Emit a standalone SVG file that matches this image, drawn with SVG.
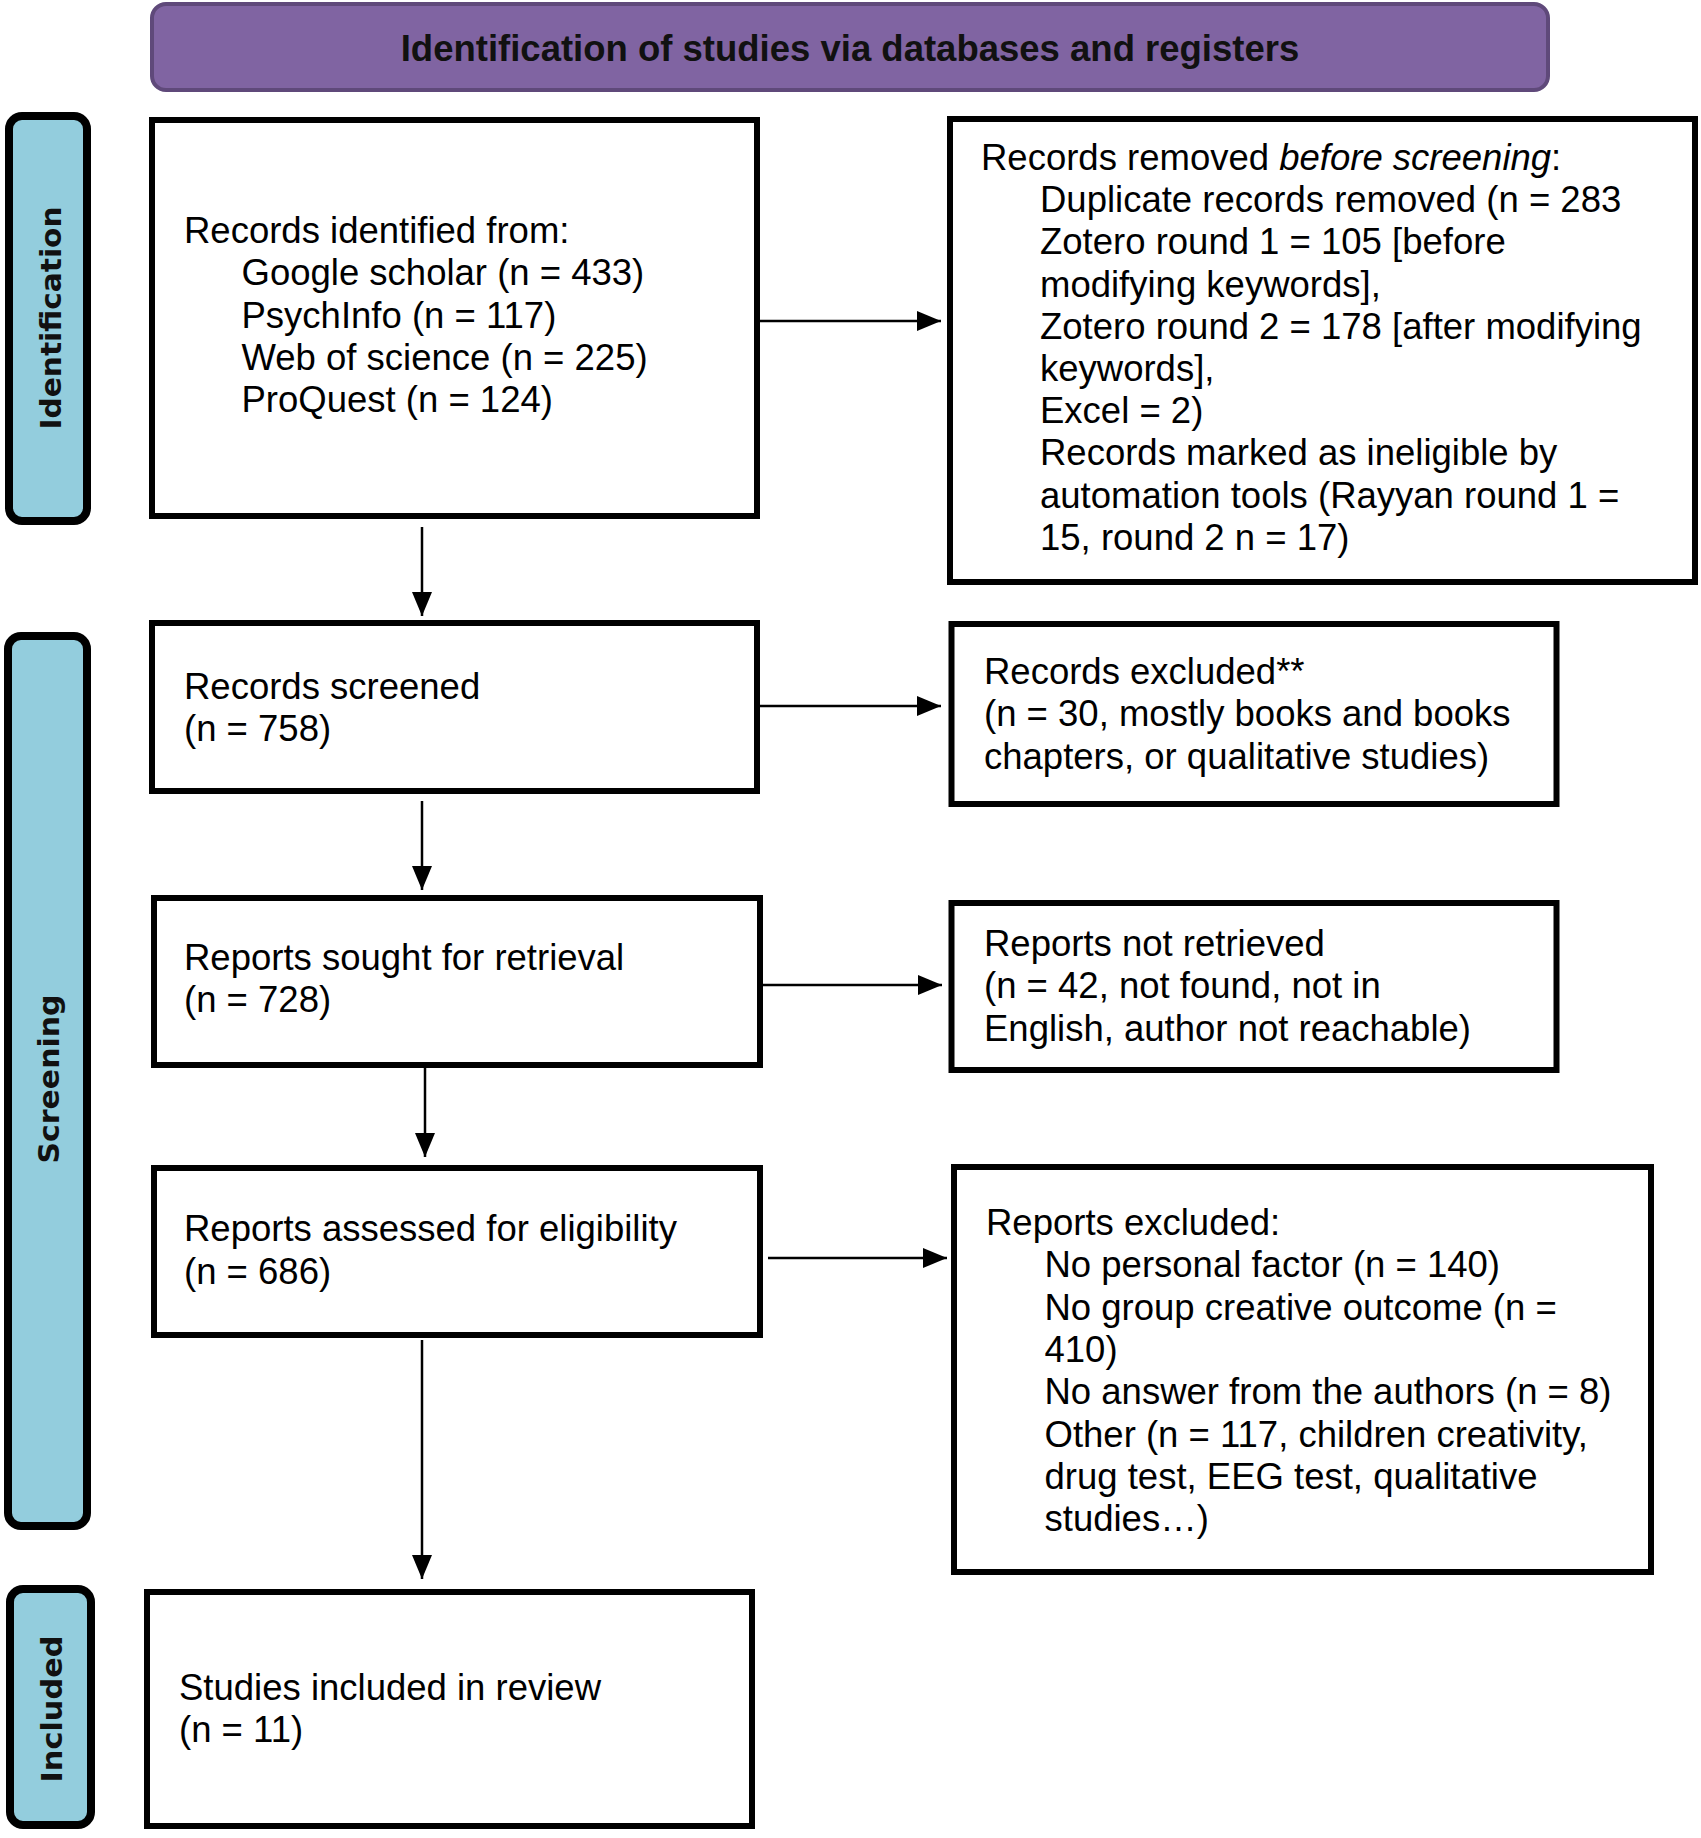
<svg xmlns="http://www.w3.org/2000/svg" width="1701" height="1838" viewBox="0 0 1701 1838">
  <defs>
    <style>
      .box { fill: #ffffff; stroke: #000000; stroke-width: 6; }
      .side { fill: #93CDDD; stroke: #000000; stroke-width: 8; }
      .hdr { fill: #8064A2; stroke: #5F497A; stroke-width: 4; }
      .t { font-family: "Liberation Sans", Arial, sans-serif; font-size: 36.5px; fill: #000000; }
      .ht { font-family: "Liberation Sans", Arial, sans-serif; font-size: 36.5px; font-weight: bold; fill: #111111; }
      .st { font-family: "DejaVu Sans", Verdana, sans-serif; font-size: 29px; font-weight: bold; fill: #111111; }
      .conn { stroke: #000000; stroke-width: 2.5; fill: none; }
    </style>
    <marker id="ah" markerUnits="userSpaceOnUse" markerWidth="24" markerHeight="20" refX="24" refY="10" orient="auto">
      <path d="M0,0 L24,10 L0,20 z" fill="#000000"/>
    </marker>
  </defs>

  <rect x="0" y="0" width="1701" height="1838" fill="#ffffff"/>

  <g id="header">
    <rect class="hdr" x="152" y="4" width="1396" height="86" rx="14" ry="14"/>
    <text class="ht" x="850" y="61" text-anchor="middle">Identification of studies via databases and registers</text>
  </g>

  <g id="label-identification">
    <rect class="side" x="9" y="116" width="78" height="405" rx="13" ry="13"/>
    <text class="st" transform="translate(61,318) rotate(-90)" text-anchor="middle" textLength="223" lengthAdjust="spacingAndGlyphs">Identification</text>
  </g>

  <g id="label-screening">
    <rect class="side" x="8" y="636" width="79" height="890" rx="13" ry="13"/>
    <text class="st" transform="translate(59,1079) rotate(-90)" text-anchor="middle" textLength="169" lengthAdjust="spacingAndGlyphs">Screening</text>
  </g>

  <g id="label-included">
    <rect class="side" x="10" y="1589" width="81" height="236" rx="13" ry="13"/>
    <text class="st" transform="translate(62,1709) rotate(-90)" text-anchor="middle" textLength="147" lengthAdjust="spacingAndGlyphs">Included</text>
  </g>

  <g id="records-identified">
    <rect class="box" x="152" y="120" width="605" height="396"/>
    <text class="t" x="184" y="243">Records identified from:</text>
    <text class="t" x="241.5" y="285.3">Google scholar (n = 433)</text>
    <text class="t" x="241.5" y="327.6">PsychInfo (n = 117)</text>
    <text class="t" x="241.5" y="369.9">Web of science (n = 225)</text>
    <text class="t" x="241.5" y="412.2">ProQuest (n = 124)</text>
  </g>

  <g id="records-removed">
    <rect class="box" x="950" y="119" width="745" height="463"/>
    <text class="t" x="981" y="170">Records removed <tspan font-style="italic">before screening</tspan>:</text>
    <text class="t" x="1040" y="212.2">Duplicate records removed (n = 283</text>
    <text class="t" x="1040" y="254.4">Zotero round 1 = 105 [before</text>
    <text class="t" x="1040" y="296.6">modifying keywords],</text>
    <text class="t" x="1040" y="338.8">Zotero round 2 = 178 [after modifying</text>
    <text class="t" x="1040" y="381">keywords],</text>
    <text class="t" x="1040" y="423.2">Excel = 2)</text>
    <text class="t" x="1040" y="465.4">Records marked as ineligible by</text>
    <text class="t" x="1040" y="507.6">automation tools (Rayyan round 1 =</text>
    <text class="t" x="1040" y="549.8">15, round 2 n = 17)</text>
  </g>

  <g id="records-screened">
    <rect class="box" x="152" y="623" width="605" height="168"/>
    <text class="t" x="184" y="699">Records screened</text>
    <text class="t" x="184" y="741">(n = 758)</text>
  </g>

  <g id="records-excluded">
    <rect class="box" x="951.5" y="624" width="605" height="180"/>
    <text class="t" x="984" y="684">Records excluded**</text>
    <text class="t" x="984" y="726.3">(n = 30, mostly books and books</text>
    <text class="t" x="984" y="768.6">chapters, or qualitative studies)</text>
  </g>

  <g id="reports-sought">
    <rect class="box" x="154" y="898" width="606" height="167"/>
    <text class="t" x="184" y="970">Reports sought for retrieval</text>
    <text class="t" x="184" y="1012">(n = 728)</text>
  </g>

  <g id="reports-not-retrieved">
    <rect class="box" x="951.5" y="903" width="605" height="167"/>
    <text class="t" x="984" y="956">Reports not retrieved</text>
    <text class="t" x="984" y="998.3">(n = 42, not found, not in</text>
    <text class="t" x="984" y="1040.6">English, author not reachable)</text>
  </g>

  <g id="reports-assessed">
    <rect class="box" x="154" y="1168" width="606" height="167"/>
    <text class="t" x="184" y="1241">Reports assessed for eligibility</text>
    <text class="t" x="184" y="1284">(n = 686)</text>
  </g>

  <g id="reports-excluded">
    <rect class="box" x="954" y="1167" width="697" height="405"/>
    <text class="t" x="986" y="1235">Reports excluded:</text>
    <text class="t" x="1044.5" y="1277.3">No personal factor (n = 140)</text>
    <text class="t" x="1044.5" y="1319.6">No group creative outcome (n =</text>
    <text class="t" x="1044.5" y="1361.9">410)</text>
    <text class="t" x="1044.5" y="1404.2">No answer from the authors (n = 8)</text>
    <text class="t" x="1044.5" y="1446.5">Other (n = 117, children creativity,</text>
    <text class="t" x="1044.5" y="1488.8">drug test, EEG test, qualitative</text>
    <text class="t" x="1044.5" y="1531.1">studies…)</text>
  </g>

  <g id="studies-included">
    <rect class="box" x="147" y="1592" width="605" height="234"/>
    <text class="t" x="179" y="1700">Studies included in review</text>
    <text class="t" x="179" y="1742">(n = 11)</text>
  </g>

  <g id="connectors">
    <line class="conn" x1="760" y1="321" x2="941" y2="321" marker-end="url(#ah)"/>
    <line class="conn" x1="422" y1="527" x2="422" y2="616" marker-end="url(#ah)"/>
    <line class="conn" x1="760" y1="706" x2="941" y2="706" marker-end="url(#ah)"/>
    <line class="conn" x1="422" y1="801" x2="422" y2="890" marker-end="url(#ah)"/>
    <line class="conn" x1="763" y1="985" x2="942" y2="985" marker-end="url(#ah)"/>
    <line class="conn" x1="425" y1="1068" x2="425" y2="1157" marker-end="url(#ah)"/>
    <line class="conn" x1="768" y1="1258" x2="947" y2="1258" marker-end="url(#ah)"/>
    <line class="conn" x1="422" y1="1340" x2="422" y2="1579" marker-end="url(#ah)"/>
  </g>
</svg>
